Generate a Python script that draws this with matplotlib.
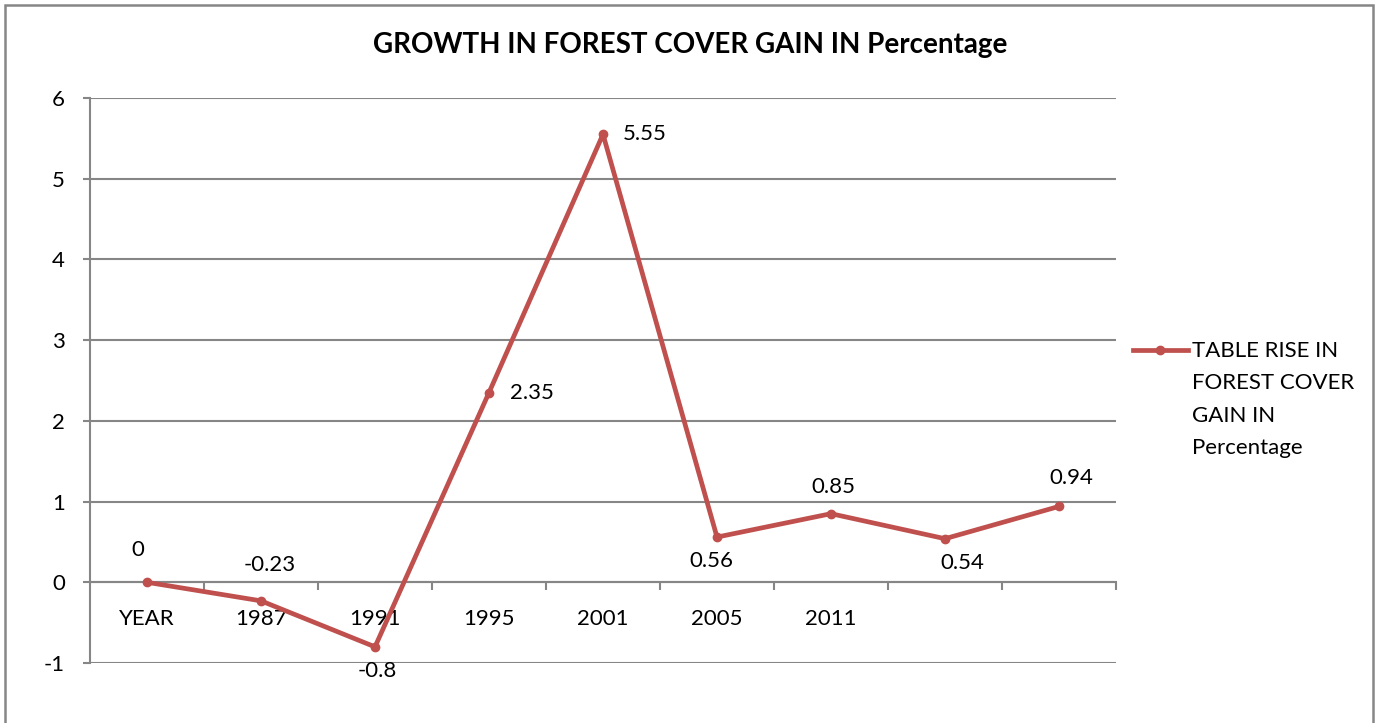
import matplotlib
matplotlib.use("Agg")
import matplotlib.pyplot as plt
from matplotlib.lines import Line2D
from matplotlib.patches import Rectangle

plt.rcParams["font.family"] = ["Lato", "DejaVu Sans"]

# ── Data ──────────────────────────────────────────────────────────────────────
categories = ["YEAR", "1987", "1991", "1995", "2001", "2005", "2011", "", ""]
values = [0, -0.23, -0.8, 2.35, 5.55, 0.56, 0.85, 0.54, 0.94]
value_labels = ["0", "-0.23", "-0.8", "2.35", "5.55", "0.56", "0.85", "0.54", "0.94"]
y_ticks = [-1, 0, 1, 2, 3, 4, 5, 6]
series_name = "TABLE RISE IN\nFOREST COVER\nGAIN IN\nPercentage"

# label placement (pixel offsets from the point), Excel-style
label_offsets = [(-9, 32), (9, 36), (2, -24), (21, 0), (20, 0),
                 (-6, -24), (2, 27), (17, -24), (12, 28)]
label_ha = ["center", "center", "center", "left", "left",
            "center", "center", "center", "center"]

RED = "#C0504D"
GRID = "#868686"
W, H = 1379, 723
FS = 16

fig = plt.figure(figsize=(W / 100, H / 100), dpi=100)
fig.patch.set_facecolor("white")

# outer chart border (open at the bottom, as in the source)
fig.add_artist(Rectangle((5 / W, -0.05), 1368 / W, 1.05 - 5 / H,
                         transform=fig.transFigure, fill=False,
                         edgecolor=GRID, lw=1.8))

ax = fig.add_axes([90 / W, 1 - 663 / H, (1116 - 90) / W, (663 - 98) / H])
x = list(range(len(categories)))

ax.plot(x, values, color=RED, lw=3.4, marker="o", ms=6,
        markerfacecolor=RED, markeredgecolor=RED, solid_joinstyle="round",
        zorder=3, clip_on=False)

for xi, v, lab, off, ha in zip(x, values, value_labels, label_offsets, label_ha):
    ax.annotate(lab, (xi, v), xytext=off, textcoords="offset pixels",
                ha=ha, va="center", fontsize=FS, color="black")

ax.set_xlim(-0.5, len(categories) - 0.5)
ax.set_ylim(-1, 6)
ax.set_yticks(y_ticks)
ax.set_yticklabels([str(t) for t in y_ticks])
ax.grid(axis="y", color=GRID, lw=1.5)
ax.set_axisbelow(True)

# category axis sits at y = 0, tick marks on the category boundaries
ax.spines["bottom"].set_position(("data", 0))
for s in ["top", "right"]:
    ax.spines[s].set_visible(False)
ax.spines["bottom"].set_color(GRID)
ax.spines["left"].set_color(GRID)
ax.spines["bottom"].set_linewidth(1.5)
ax.spines["left"].set_linewidth(1.5)

ax.set_xticks(x)
ax.set_xticklabels(categories)
ax.set_xticks([i + 0.5 for i in x], minor=True)
ax.tick_params(axis="x", which="major", length=0, pad=19, labelsize=FS)
ax.tick_params(axis="x", which="minor", length=6, width=1.5, color=GRID, direction="out")
ax.tick_params(axis="y", length=5, width=1.5, color=GRID, pad=13, labelsize=FS)

fig.text(690 / W, 1 - 45 / H, "GROWTH IN FOREST COVER GAIN IN Percentage",
         fontsize=20, fontweight="bold", ha="center", va="center")

# legend (handle lined up with the first text row, like Excel)
ly = 1 - 350 / H
fig.add_artist(Line2D([1133 / W, 1188 / W], [ly, ly], color=RED, lw=3.4,
                      transform=fig.transFigure))
fig.add_artist(Line2D([1160 / W], [ly], color=RED, marker="o", ms=6,
                      transform=fig.transFigure))
fig.text(1192 / W, 1 - 341 / H, series_name, ha="left", va="top",
         fontsize=FS, linespacing=1.78)

plt.savefig("out.png", dpi=100, facecolor="white")
